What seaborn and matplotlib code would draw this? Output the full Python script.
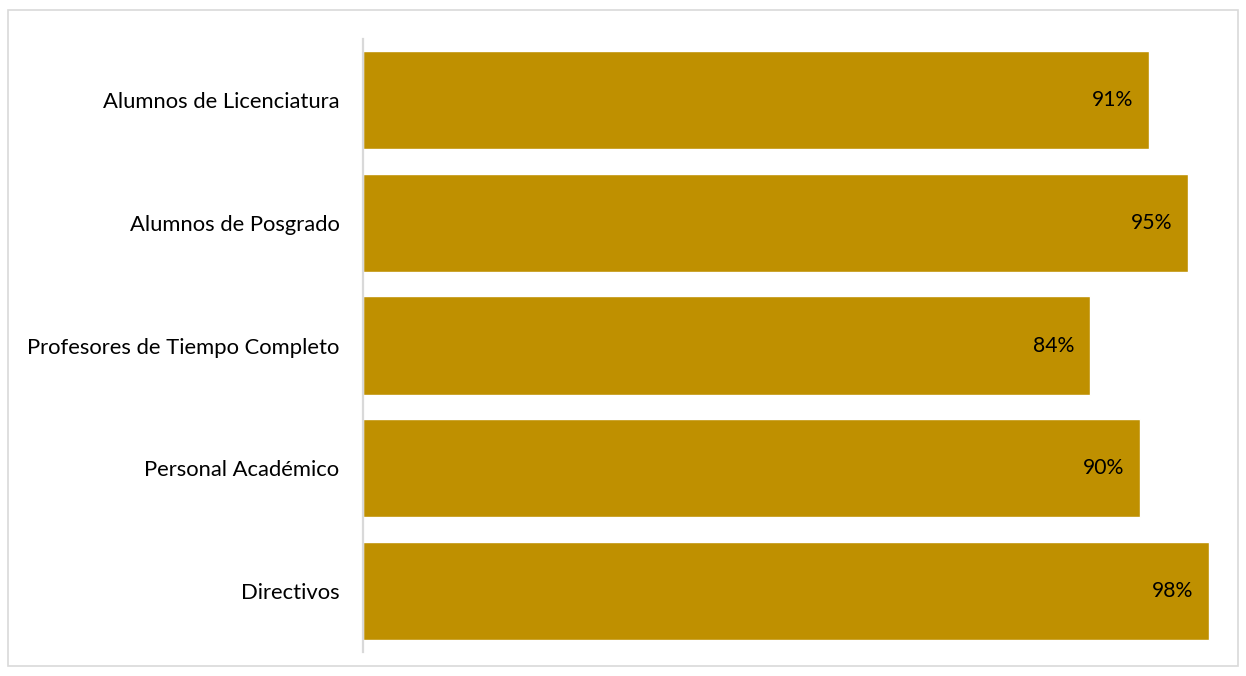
import matplotlib
matplotlib.use("Agg")
import matplotlib.pyplot as plt
import seaborn as sns
import pandas as pd
from matplotlib.patches import Rectangle

categories = ["Alumnos de Licenciatura", "Alumnos de Posgrado",
              "Profesores de Tiempo Completo", "Personal Académico", "Directivos"]
values = [0.906, 0.952, 0.839, 0.896, 0.976]
labels = ["91%", "95%", "84%", "90%", "98%"]

df = pd.DataFrame({"grupo": categories, "valor": values})

sns.set_style("white")
plt.rcParams["font.family"] = ["Lato", "DejaVu Sans"]

fig = plt.figure(figsize=(12.46, 6.76), dpi=100)
ax = fig.add_axes([363 / 1246, 1 - 652 / 676, (1230 - 363) / 1246, (652 - 39) / 676])

sns.barplot(data=df, x="valor", y="grupo", orient="h", color="#BF9000",
            saturation=1, width=0.8, ax=ax)

for i, (v, lab) in enumerate(zip(values, labels)):
    ax.text(v - 0.018, i, lab, ha="right", va="center", fontsize=15.2, color="#000000")

ax.set_xlim(0, 1)
ax.set_ylim(4.5, -0.5)
ax.set_xlabel("")
ax.set_ylabel("")
ax.set_xticks([])
ax.tick_params(axis="y", length=0, pad=17, labelsize=15.8, labelcolor="#000000")
for s in ["top", "right", "bottom"]:
    ax.spines[s].set_visible(False)
ax.spines["left"].set_color("#D9D9D9")
ax.spines["left"].set_linewidth(1.6)

# chart border
fig.patches.append(Rectangle((8 / 1246, 1 - 666 / 676), (1238 - 8) / 1246, (666 - 10) / 676,
                             transform=fig.transFigure, fill=False,
                             edgecolor="#D9D9D9", linewidth=1.2))

fig.savefig("out.png", dpi=100)
